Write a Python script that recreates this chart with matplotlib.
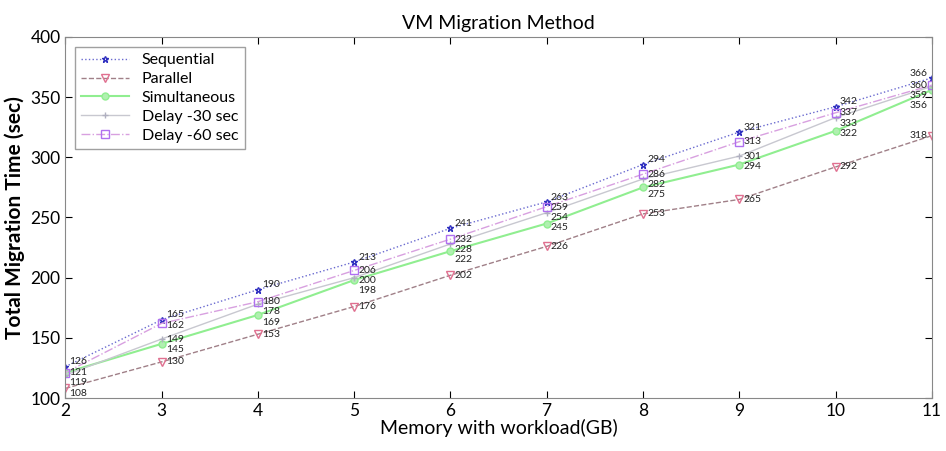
import matplotlib.pyplot as plt
import numpy as np

memory = [2, 3, 4, 5, 6, 7, 8, 9, 10, 11]
sequential = [126, 165, 190, 213, 241, 263, 294, 321, 342, 366]
parallel = [108, 130, 153, 176, 202, 226, 253, 265, 292, 318]
simultaneous = [121, 145, 169, 198, 222, 245, 275, 294, 322, 356]
delay30 = [119, 149, 178, 200, 228, 254, 282, 301, 333, 359]
delay60 = [121, 162, 180, 206, 232, 259, 286, 313, 337, 360]

plt.rcParams['font.family'] = ['Lato', 'DejaVu Sans']

fig = plt.figure(figsize=(9.46, 4.51), dpi=100)
ax = fig.add_axes([0.069, 0.1175, 0.916, 0.8005])

# plot each method
ax.plot(memory, sequential, ':', color='#6a6ad0', lw=1, marker='*', ms=5,
        mec='#3030c0', mfc='none', label='Sequential')
ax.plot(memory, parallel, '--', color='#a08088', lw=1, marker='v', ms=6,
        mec='#e07090', mfc='none', label='Parallel')
ax.plot(memory, simultaneous, '-', color='#90ee90', lw=1.5, marker='o', ms=5,
        mec='#90ee90', mfc='#b0f0b0', label='Simultaneous')
ax.plot(memory, delay30, '-', color='#c8c8d0', lw=1, marker='+', ms=5,
        mec='#b0b0c0', label='Delay -30 sec')
ax.plot(memory, delay60, '-.', color='#d8a0e0', lw=1, marker='s', ms=6,
        mec='#b070f0', mfc='none', label='Delay -60 sec')

# value labels: stack them down from the top one so they don't collide
# (equal values at the same x share one label, like in the original)
all_series = [sequential, delay60, delay30, simultaneous, parallel]
gap = 8.5
for i, x in enumerate(memory):
    vals = sorted(set(s[i] for s in all_series), reverse=True)
    prev = None
    for v in vals:
        ty = v + 4 if prev is None else min(v, prev - gap)
        prev = ty
        if x == 11:
            ox, ha = -3, 'right'
        else:
            ox, ha = 3, 'left'
        ax.annotate(str(v), (x, ty), xytext=(ox, 0), textcoords='offset points',
                    fontsize=7.5, ha=ha, va='center', color='#222222',
                    annotation_clip=False)

ax.set_xlim(2, 11)
ax.set_ylim(100, 400)
ax.set_xticks(memory)
ax.set_yticks(np.arange(100, 401, 50))
ax.tick_params(direction='in', top=True, right=True, labelsize=12.5, length=5)
for s in ax.spines.values():
    s.set_color('#888888')

ax.set_title('VM Migration Method', fontsize=14, pad=6)
ax.set_xlabel('Memory with workload(GB)', fontsize=14, labelpad=0)
ax.set_ylabel('Total Migration Time (sec)', fontsize=15, fontweight='bold')

ax.legend(loc='upper left', fontsize=11.5, frameon=True, fancybox=False,
          edgecolor='#888888', handlelength=3, borderaxespad=0.6,
          labelspacing=0.3)

plt.savefig('out.png', dpi=100)
